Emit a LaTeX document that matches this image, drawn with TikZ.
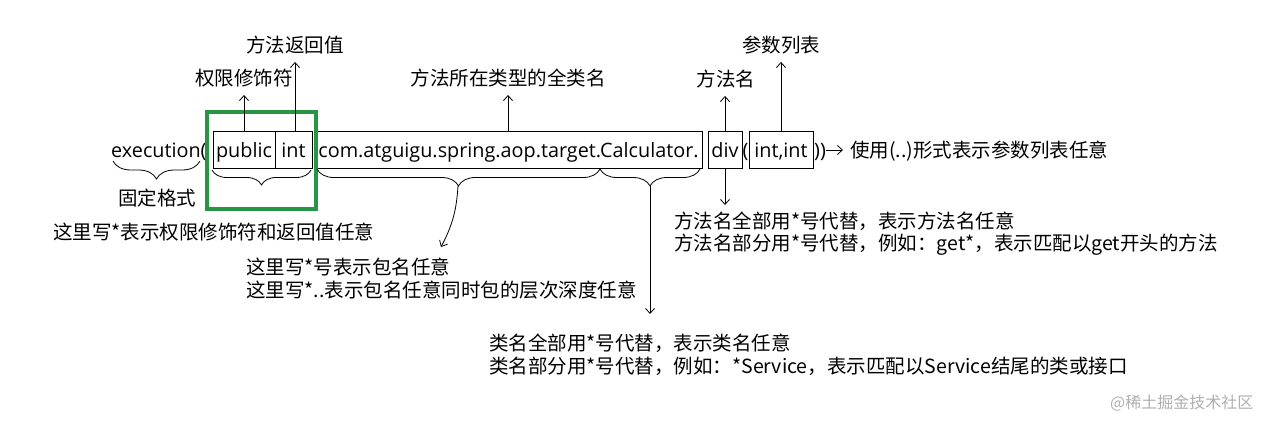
\documentclass[tikz,border=0pt]{standalone}
\usepackage{fontspec}
\setmainfont{Noto Sans CJK SC}
\newfontfamily\codefont{Open Sans}
\usetikzlibrary{decorations.pathreplacing,arrows.meta}
\definecolor{frameGreen}{RGB}{38,150,68}
\definecolor{wmGray}{RGB}{175,175,175}
\tikzset{
  lbl/.style={font=\fontsize{19.5}{23}\selectfont, inner sep=0pt, text height=17pt, text depth=2.5pt},
  codetext/.style={font=\codefont\fontsize{19.8}{23}\selectfont, inner sep=0pt, text height=18pt, text depth=3pt},
  codebox/.style={codetext, draw, line width=0.8pt, minimum height=37pt, inner sep=0pt},
  arr/.style={draw, line width=0.8pt, -{Straight Barb[length=5pt,width=9pt]}},
  brc/.style={draw, line width=0.8pt, decorate, decoration={brace, mirror, amplitude=#1}},
  brc/.default=16pt
}
\begin{document}
\begin{tikzpicture}[x=1pt,y=-1pt]
\useasboundingbox[fill=white] (0,0) rectangle (1285,421);

% code line
\node[codetext, anchor=west] (exec) at (111,149.5) {execution(};
\node[codebox, minimum width=62pt] (pub) at (244,149.5) {public};
\node[codebox, minimum width=37pt] (int) at (293.5,149.5) {int};
\node[codebox, minimum width=387pt] (pkg) at (508.5,149.5) {com.atguigu.spring.aop.target.Calculator.};
\node[codebox, minimum width=34pt] (div) at (725,149.5) {div};
\node[codetext] (lpar) at (745.5,149.5) {(};
\node[codebox, minimum width=64pt] (args) at (781,149.5) {int,int};
\node[codetext, anchor=west] (rpar) at (814,149.5) {))};
\node[lbl, anchor=west] (anyargs) at (850,150) {使用(..)形式表示参数列表任意};
\draw[arr] (rpar.east |- anyargs.west) -- ([xshift=-7pt]anyargs.west);

% green frame
\draw[frameGreen, line width=4pt] (207,112) rectangle (316,209);

% up labels
\node[lbl] (lpub) at (244,78) {权限修饰符};
\node[lbl] (lint) at (295,45) {方法返回值};
\node[lbl] (lpkg) at (508,78) {方法所在类型的全类名};
\node[lbl] (ldiv) at (726,79) {方法名};
\node[lbl] (largs) at (781,45) {参数列表};
\draw[arr] (pub.north -| lpub) -- ([yshift=-7pt]lpub.south);
\draw[arr] (int.north -| lint) -- ([yshift=-7pt]lint.south);
\draw[arr] (pkg.north -| lpkg) -- ([yshift=-7pt]lpkg.south);
\draw[arr] (div.north) -- ([yshift=-7pt]ldiv.south -| div.north);
\draw[arr] (args.north) -- ([yshift=-7pt]largs.south -| args.north);

% method name notes
\node[lbl, anchor=west] (mn1) at (674,221) {方法名全部用*号代替，表示方法名任意};
\node[lbl, anchor=west] (mn2) at (674,243) {方法名部分用*号代替，例如：get*，表示匹配以get开头的方法};
\coordinate (divdown) at (725,205);
\draw[arr] (div.south) -- (divdown);

% braces
\draw[brc=18pt] (113,161) -- (200,161);
\node[lbl] (fixed) at (157,198) {固定格式};

\draw[brc=15pt] (212,170) -- (311,170);
\node[lbl, anchor=west] (anyret) at (53,232) {这里写*表示权限修饰符和返回值任意};

\draw[brc=17pt] (317,169) -- (600,169);
\draw[brc=17pt] (600,169) -- (700,169);
\coordinate (pkgtip) at (458,186);
\coordinate (clstip) at (650,186);

\node[lbl, anchor=west] (pk1) at (246,267) {这里写*号表示包名任意};
\node[lbl, anchor=west] (pk2) at (246,290) {这里写*..表示包名任意同时包的层次深度任意};
\coordinate (pkgend) at (441,247);
\draw[arr] (pkgtip) to[bend left=12] (pkgend);

\node[lbl, anchor=west] (cl1) at (489,343) {类名全部用*号代替，表示类名任意};
\node[lbl, anchor=west] (cl2) at (489,366) {类名部分用*号代替，例如：*Service，表示匹配以Service结尾的类或接口};
\coordinate (clsend) at (650,314);
\draw[arr] (clstip) -- (clsend);

% watermark
\node[lbl, anchor=west, text=wmGray, font=\fontsize{16}{19}\selectfont] (wm) at (1110,401) {@稀土掘金技术社区};
\end{tikzpicture}
\end{document}
